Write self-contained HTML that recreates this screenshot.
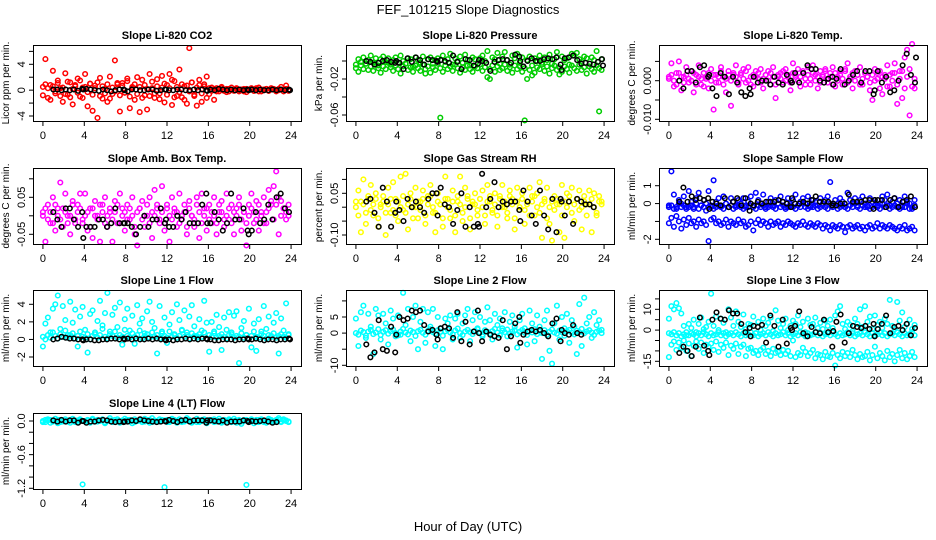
<!DOCTYPE html>
<html><head><meta charset="utf-8"><title>FEF_101215 Slope Diagnostics</title>
<style>
html,body{margin:0;padding:0;background:#fff;}
svg{display:block;font-family:"Liberation Sans",Arial,sans-serif;}
</style></head>
<body>
<svg id="chart" width="936" height="540" viewBox="0 0 936 540" xmlns="http://www.w3.org/2000/svg">
<rect x="0" y="0" width="936" height="540" fill="#fff"/>
<text x="468" y="14" text-anchor="middle" font-size="13">FEF_101215  Slope Diagnostics</text>
<text x="468" y="531" text-anchor="middle" font-size="13">Hour of Day (UTC)</text>
</svg>
<script>
const xTicks = [0,4,8,12,16,20,24];
const hours = [0,0.24,0.48,0.72,0.96,1.2,1.44,1.68,1.92,2.16,2.4,2.64,2.88,3.12,3.36,3.6,3.84,4.08,4.32,4.56,4.8,5.04,5.28,5.52,5.76,6,6.24,6.48,6.72,6.96,7.2,7.44,7.68,7.92,8.16,8.4,8.64,8.88,9.12,9.36,9.6,9.84,10.08,10.32,10.56,10.8,11.04,11.28,11.52,11.76,12,12.24,12.48,12.72,12.96,13.2,13.44,13.68,13.92,14.16,14.4,14.64,14.88,15.12,15.36,15.6,15.84,16.08,16.32,16.56,16.8,17.04,17.28,17.52,17.76,18,18.24,18.48,18.72,18.96,19.2,19.44,19.68,19.92,20.16,20.4,20.64,20.88,21.12,21.36,21.6,21.84,22.08,22.32,22.56,22.8,23.04,23.28,23.52,23.76];
const blackHours = [1.0,1.4,1.8,2.2,2.6,3.0,3.4,3.8,3.9,4.2,4.6,5.0,5.4,5.8,6.2,6.6,7.0,7.4,7.8,7.9,8.2,8.6,9.0,9.4,9.8,10.2,10.6,11.0,11.4,11.8,11.9,12.2,12.6,13.0,13.4,13.8,14.2,14.6,15.0,15.4,15.8,15.9,16.2,16.6,17.0,17.4,17.8,18.2,18.6,19.0,19.4,19.8,19.9,20.2,20.6,21.0,21.4,21.8,22.2,22.6,23.0,23.4,23.8,23.9];

const co2A = [0.5,4.8,-1.2,0.8,3.0,-0.5,1.5,0.3,-1.8,2.6,-0.7,1.2,-2.2,0.6,1.8,-1.0,0.4,2.5,-2.5,1.0,-3.2,0.7,-4.3,1.9,-1.3,0.2,-1.8,2.1,-0.6,4.6,0.9,-3.3,1.1,-0.4,1.8,-2.8,0.5,-1.5,2.0,-3.4,1.6,-0.8,-3.0,2.5,0.3,-1.2,1.7,-0.5,2.2,-1.9,0.8,2.5,-2.3,1.4,-0.9,3.2,-1.1,0.6,-2.1,6.5,1.2,-0.7,-2.4,1.6,-1.8,0.9,2.1,-0.6,0.4,-1.5,0.3,-0.2,0.5,0.1,-0.3,0.2,0.4,-0.1,0.3,-0.2,0.1,0.2,-0.3,0.1,0.3,-0.1,0.2,0.4,-0.2,0.1,0.2,-0.1,0.3,0.1,-0.2,0.2,0.5,0.1,0.7,-0.1];
const co2B = [-0.8,0.9,0.3,-1.5,0.6,-0.2,1.1,-0.9,0.4,-0.6,1.3,-1.1,0.2,0.8,-0.4,1.5,-1.2,0.5,-0.3,1.0,-0.7,0.3,1.2,-0.9,0.6,-0.5,0.9,-1.3,0.4,-0.2,1.1,-0.8,0.7,-0.4,1.4,-1.0,0.3,0.9,-0.6,0.5,-1.2,0.8,0.2,-0.9,1.3,-0.5,0.6,-1.4,0.4,1.0,-0.7,0.3,1.6,-1.1,0.5,-0.3,0.9,-1.5,0.7,-0.2,1.2,-0.9,0.4,0.8,-0.5,0.6,-1.2,0.3,-0.1,0.2,-0.2,0.1,0.3,-0.1,0.2,-0.2,0.1,0,0.2,-0.1,0.1,-0.2,0.2,0,0.1,-0.1,0.3,-0.2,0.1,0,0.2,-0.1,0.1,0.2,-0.1,0,0.1,-0.2,0.2,0];
const co2K = [0.1,0.1,0,0.1,0,0.1,-0.1,0.2,0.1,0.2,0.1,0,-0.1,0.1,0,-0.2,0,0.1,0.1,0,-0.2,0.1,0.1,0,0,0.1,0.1,-0.1,0,0.1,0.1,0,0,0.1,0.1,0,0,0.1,0,0.1,0,-0.1,0.1,0,0.2,0.1,0,0.1,0,0.1,0,0.1,0,0.1,0,0.1,0,0,0.1,0,0.1,0,0.1,0];

const presA = [-0.004,0.002,-0.001,0.004,-0.003,0.001,0.006,-0.002,0.003,-0.005,0.002,0.005,-0.001,0.003,-0.004,0.001,0.004,-0.002,0.006,0.000,-0.003,0.003,0.002,-0.006,0.004,0.001,-0.002,0.005,-0.014,0.002,0.004,-0.003,0.001,0.003,-0.063,0.006,-0.001,0.002,0.008,-0.004,0.003,0.000,0.005,-0.002,0.007,0.001,-0.005,0.004,0.002,-0.008,0.003,0.006,0.000,0.011,-0.020,0.004,0.002,0.009,-0.003,0.005,0.010,0.001,-0.004,0.006,0.003,0.008,-0.002,0.004,-0.066,0.001,0.005,-0.016,0.003,0.000,0.006,-0.002,0.004,0.001,0.007,-0.003,0.002,0.010,-0.015,0.005,0.001,0.003,-0.004,0.008,0.006,0.009,0.002,-0.001,0.005,0.003,-0.006,0.004,0.001,0.011,-0.056,0.002];
const presB = [-0.008,-0.012,-0.005,-0.009,-0.003,-0.010,-0.006,-0.011,-0.004,-0.008,-0.013,-0.006,-0.009,-0.002,-0.007,-0.011,-0.005,-0.009,-0.014,-0.006,-0.003,-0.010,-0.007,-0.012,-0.005,-0.008,-0.011,-0.004,-0.009,-0.006,-0.013,-0.007,-0.010,-0.003,-0.008,-0.012,-0.005,-0.009,-0.006,-0.011,-0.004,-0.008,-0.013,-0.007,-0.010,-0.005,-0.009,-0.012,-0.006,-0.008,-0.004,-0.011,-0.007,-0.018,-0.009,-0.005,-0.012,-0.006,-0.010,-0.008,-0.004,-0.011,-0.007,-0.013,-0.005,-0.009,-0.006,-0.012,-0.008,-0.020,-0.010,-0.005,-0.013,-0.007,-0.009,-0.004,-0.011,-0.006,-0.014,-0.008,-0.005,-0.010,-0.007,-0.012,-0.006,-0.009,-0.013,-0.005,-0.008,-0.011,-0.004,-0.010,-0.007,-0.014,-0.006,-0.009,-0.012,-0.005,-0.008,-0.010];
const presK = [0.000,-0.001,-0.004,-0.002,0.000,0.001,-0.001,-0.002,0.000,-0.002,-0.009,0.003,-0.001,0.004,0.001,-0.004,0.002,0.001,0.000,-0.001,0.001,0.000,-0.002,0.006,-0.001,-0.009,0.002,0.001,-0.005,-0.003,0.001,0.000,-0.002,-0.011,-0.001,0.001,0.002,0.001,-0.002,0.007,0.005,0.000,-0.006,0.000,0.003,0.000,0.000,0.002,0.003,0.002,0.004,-0.004,-0.010,0.003,0.004,0.006,0.001,-0.003,-0.002,-0.003,-0.004,-0.001,0.002,-0.005];

const tempA = [0.0010,0.0045,-0.0015,0.0020,0.0050,-0.0025,0.0010,0.0035,-0.0005,0.0025,-0.0030,0.0015,0.0040,-0.0010,0.0020,0.0005,-0.0020,0.0030,-0.0075,0.0015,-0.0005,0.0035,0.0010,-0.0030,0.0025,-0.0065,0.0015,0.0040,-0.0010,0.0020,0.0030,-0.0005,0.0035,0.0010,-0.0015,0.0025,0.0005,0.0030,-0.0020,0.0015,0.0025,-0.0010,0.0035,-0.0045,0.0010,0.0020,-0.0005,0.0030,0.0015,-0.0025,0.0045,0.0010,0.0030,-0.0015,0.0020,0.0005,0.0035,-0.0010,0.0040,0.0015,-0.0020,0.0025,0.0010,0.0030,-0.0005,0.0020,0.0035,-0.0015,0.0010,0.0025,-0.0010,0.0030,0.0045,0.0005,-0.0020,0.0025,0.0015,0.0035,-0.0010,0.0020,0.0010,-0.0025,-0.0050,0.0030,0.0005,0.0025,-0.0035,0.0015,0.0040,-0.0015,0.0020,0.0045,-0.0060,0.0025,-0.0045,0.0060,0.0080,-0.0090,0.0095,-0.0020];
const tempB = [0.0005,0.0015,0.0000,-0.0010,0.0020,0.0010,-0.0005,0.0015,0.0005,0.0000,0.0020,-0.0010,0.0010,0.0005,-0.0015,0.0010,0.0020,0.0000,0.0015,-0.0005,0.0010,0.0025,-0.0010,0.0005,0.0015,0.0000,0.0020,0.0010,-0.0005,0.0015,0.0005,0.0025,0.0000,-0.0010,0.0015,0.0010,0.0020,-0.0005,0.0005,0.0015,0.0000,0.0020,0.0010,-0.0010,0.0015,0.0005,0.0025,0.0000,0.0010,-0.0005,0.0020,0.0015,0.0000,0.0010,0.0025,-0.0010,0.0015,0.0005,0.0020,0.0000,0.0010,-0.0005,0.0015,0.0025,0.0005,0.0010,-0.0010,0.0020,0.0000,0.0015,0.0005,0.0025,-0.0005,0.0010,0.0020,0.0000,0.0015,-0.0010,0.0005,0.0020,0.0010,-0.0005,0.0015,0.0000,0.0020,-0.0020,0.0010,0.0005,-0.0015,0.0015,0.0000,0.0020,-0.0010,0.0005,0.0025,-0.0020,0.0010,0.0030,-0.0015,0.0005];
const tempK = [0.0000,-0.0020,0.0025,0.0025,-0.0005,0.0035,0.0040,0.0010,0.0015,-0.0020,-0.0040,0.0020,0.0010,-0.0035,0.0010,-0.0005,-0.0030,-0.0040,-0.0020,-0.0035,0.0010,-0.0005,0.0000,0.0000,-0.0010,0.0010,-0.0005,-0.0010,0.0015,0.0000,-0.0005,0.0020,-0.0005,0.0020,0.0040,0.0030,0.0030,0.0000,-0.0005,0.0005,0.0010,-0.0010,0.0005,0.0030,-0.0010,0.0000,0.0015,0.0025,-0.0005,0.0025,0.0025,-0.0035,-0.0025,0.0025,-0.0005,0.0010,-0.0030,-0.0025,0.0000,0.0040,0.0070,0.0015,-0.0005,0.0060];

const ambA = [0.01,-0.07,0.03,-0.02,0.05,-0.04,0.02,0.09,-0.03,0.06,0.00,-0.05,0.04,-0.02,0.03,0.06,-0.01,0.06,-0.04,0.02,-0.06,0.04,0.00,-0.07,0.03,0.05,-0.03,0.01,-0.07,0.04,-0.02,0.06,0.02,-0.04,0.03,-0.01,0.05,-0.05,-0.08,0.02,0.04,-0.03,0.00,0.05,-0.06,0.07,0.03,-0.02,0.08,-0.04,0.02,-0.07,0.05,0.01,-0.03,0.06,-0.01,0.03,-0.05,0.04,0.00,-0.03,0.05,-0.06,0.06,0.02,-0.04,0.03,-0.02,0.05,-0.05,0.01,0.04,-0.03,0.06,-0.01,0.03,-0.05,0.02,0.05,-0.04,0.01,-0.08,0.03,0.06,-0.02,0.04,-0.04,0.01,0.05,-0.02,0.07,0.03,0.08,0.12,-0.05,0.04,0.02,-0.01,0.03];
const ambB = [0.00,0.02,-0.01,0.01,-0.02,0.03,0.00,-0.01,0.02,0.01,-0.02,0.00,0.03,-0.01,0.01,0.02,-0.02,0.00,0.01,-0.03,0.02,0.00,-0.01,0.03,0.01,-0.02,0.00,0.02,-0.01,0.01,0.03,-0.02,0.00,0.01,-0.01,0.02,0.00,-0.03,0.01,0.02,-0.01,0.00,0.03,-0.02,0.01,0.00,0.02,-0.01,0.01,-0.02,0.03,0.00,-0.01,0.02,0.01,-0.02,0.00,0.01,-0.03,0.02,0.00,-0.01,0.03,0.01,-0.02,0.00,0.02,-0.01,0.01,0.00,-0.02,0.03,0.01,-0.01,0.00,0.02,-0.02,0.01,0.00,0.03,-0.01,0.01,-0.02,0.00,0.02,0.01,-0.01,0.03,0.00,-0.02,0.01,0.02,0.04,-0.01,0.03,0.05,0.00,0.02,0.01,0.00];
const ambK = [0.01,-0.01,-0.03,0.02,0.02,-0.01,-0.03,0.01,-0.06,-0.03,-0.03,-0.03,-0.01,-0.01,-0.03,-0.02,0.02,-0.02,-0.02,-0.02,-0.02,-0.03,-0.05,-0.03,0.00,-0.03,-0.01,-0.01,0.02,-0.02,-0.01,-0.03,-0.03,0.00,-0.01,0.01,-0.02,-0.02,-0.02,0.03,0.06,-0.02,-0.02,0.01,-0.01,-0.04,-0.02,0.06,-0.01,-0.01,0.02,-0.04,-0.05,-0.04,0.01,-0.02,-0.01,0.03,-0.01,0.05,0.06,0.02,0.01];

const rhA = [0.02,0.06,-0.09,0.10,-0.06,0.03,0.08,-0.03,0.05,-0.07,0.01,0.04,-0.10,0.07,-0.02,0.09,0.03,-0.05,0.11,-0.01,0.12,-0.08,0.05,0.00,0.07,-0.04,0.02,0.06,-0.06,0.04,0.08,-0.02,-0.09,0.05,0.01,-0.07,0.11,0.03,-0.04,0.06,-0.09,0.02,0.11,-0.05,0.07,0.04,-0.08,0.01,0.05,-0.03,0.03,0.06,-0.06,0.08,0.02,-0.02,0.05,-0.07,0.04,0.08,0.00,-0.04,0.06,0.03,-0.08,0.07,-0.01,0.05,-0.06,0.02,0.07,0.04,-0.03,0.05,0.09,-0.11,0.02,0.07,-0.06,-0.12,0.04,0.01,-0.09,0.08,-0.11,0.05,0.02,0.07,-0.05,0.03,0.06,-0.08,0.04,0.01,0.06,-0.09,0.05,-0.03,0.04,0.02];
const rhB = [0.00,-0.03,0.02,0.01,-0.02,0.04,-0.01,0.01,0.03,-0.04,0.00,0.02,-0.02,0.01,0.03,-0.01,-0.03,0.02,0.00,0.04,-0.02,0.01,0.03,-0.04,0.00,0.02,-0.01,0.03,-0.03,0.01,0.04,0.00,-0.02,0.02,0.01,-0.04,0.03,0.00,-0.01,0.02,-0.03,0.04,0.01,-0.02,0.00,0.03,-0.04,0.02,0.01,-0.01,0.03,0.00,-0.03,0.02,0.04,-0.01,0.01,-0.03,0.03,0.00,0.02,-0.02,0.04,0.01,-0.04,0.02,0.00,0.03,-0.01,0.01,-0.03,0.02,0.04,0.00,-0.02,0.01,0.03,-0.04,0.00,0.02,-0.01,0.03,0.01,-0.03,0.02,0.00,0.04,-0.02,0.01,0.03,-0.01,0.00,0.02,-0.03,0.01,0.03,0.00,-0.02,0.02,0.01];
const rhK = [0.02,0.03,-0.02,-0.07,0.07,0.02,-0.07,-0.02,0.02,-0.01,-0.05,0.03,0.00,0.02,0.00,-0.02,0.03,0.05,0.05,-0.03,0.07,0.01,0.00,-0.06,-0.01,0.05,-0.07,0.00,-0.07,-0.06,-0.07,0.12,0.00,0.03,0.09,0.00,0.02,0.01,0.02,0.02,-0.01,-0.05,0.06,0.02,-0.03,-0.06,0.06,-0.03,-0.08,0.03,-0.09,0.03,0.02,-0.03,0.02,-0.06,0.03,0.02,0.01,0.01,0.00];

const sfA = [-0.1,1.8,0.5,-0.3,0.2,0.0,0.4,-0.2,0.7,0.1,-0.3,0.3,0.6,-0.1,0.2,0.0,0.7,-0.2,1.3,0.1,0.3,-0.1,0.4,0.0,-0.2,0.3,0.1,-0.1,0.2,0.0,0.3,-0.2,0.1,0.4,-0.1,0.6,0.2,0.0,0.5,-0.2,0.1,0.3,-0.1,0.2,0.0,0.4,0.1,-0.2,0.3,0.0,0.2,0.5,-0.1,0.1,0.3,0.0,0.4,-0.2,0.2,0.1,-0.1,0.3,0.0,0.2,0.4,1.2,-0.1,0.2,0.0,0.3,0.1,-0.2,0.6,0.2,0.0,0.3,-0.1,0.2,0.4,0.0,-0.2,0.3,0.1,0.2,-0.1,0.0,0.4,0.2,0.5,-0.1,0.1,0.3,0.0,0.2,-0.2,0.4,0.1,0.0,-0.3,0.2];
const sfB = [-1.1,-0.8,-1.3,-0.7,-1.0,-1.4,-0.9,-1.2,-0.8,-1.1,-1.0,-1.3,-0.9,-1.1,-1.0,-1.2,-2.1,-0.9,-0.8,-1.1,-1.0,-1.2,-1.1,-0.9,-1.3,-1.0,-1.1,-1.2,-0.9,-1.1,-1.0,-1.3,-1.2,-1.0,-1.5,-1.1,-0.9,-1.2,-1.0,-1.1,-1.3,-1.0,-1.2,-1.1,-1.0,-1.3,-1.1,-1.2,-1.0,-1.1,-1.2,-1.3,-1.1,-1.2,-1.0,-1.2,-1.3,-1.1,-1.2,-1.3,-1.1,-1.2,-1.4,-1.2,-1.3,-1.5,-1.2,-1.3,-1.4,-1.2,-1.3,-1.6,-1.3,-1.2,-1.4,-1.3,-1.2,-1.4,-1.3,-1.5,-1.3,-1.2,-1.4,-1.3,-1.1,-1.4,-1.2,-1.3,-1.4,-1.2,-1.3,-1.4,-1.5,-1.3,-1.4,-1.2,-1.5,-1.4,-1.3,-1.5];
const sfC = [-0.2,-0.1,-0.3,-0.2,0.0,-0.2,-0.1,-0.3,-0.2,-0.1,-0.2,0.0,-0.3,-0.1,-0.2,-0.4,-0.2,-0.1,-0.3,-0.2,-0.1,-0.2,-0.3,0.0,-0.2,-0.1,-0.3,-0.2,-0.1,-0.2,-0.3,-0.1,-0.2,0.0,-0.2,-0.3,-0.1,-0.2,-0.1,-0.3,-0.2,-0.1,-0.2,-0.3,0.0,-0.2,-0.1,-0.3,-0.2,-0.1,-0.2,-0.3,-0.1,-0.2,0.0,-0.2,-0.3,-0.1,-0.2,-0.1,-0.3,-0.2,-0.1,-0.2,-0.3,0.0,-0.2,-0.1,-0.3,-0.2,-0.1,-0.2,-0.3,-0.1,-0.2,0.0,-0.2,-0.3,-0.1,-0.2,-0.1,-0.3,-0.2,-0.1,-0.2,-0.3,0.0,-0.2,-0.1,-0.3,-0.2,-0.1,-0.2,-0.3,-0.1,-0.2,0.0,-0.3,-0.2,-0.1];
const sfK = [0.1,0.9,0.1,0.4,0.2,0.3,0.2,0.3,-0.3,0.1,0.0,-0.1,0.3,-0.2,0.1,0.3,-0.1,0.3,-0.4,0.0,-0.1,0.1,0.0,0.1,0.1,0.1,0.2,0.1,0.0,-0.2,0.3,0.0,0.0,0.1,0.0,0.2,0.4,0.1,0.1,0.1,-0.1,0.0,-0.1,0.0,0.0,0.5,0.1,0.1,0.1,0.2,0.2,-0.3,0.2,0.2,0.2,-0.2,0.2,0.3,-0.2,0.1,0.2,0.4,-0.2];

const l1A = [-0.8,1.8,2.5,0.8,3.5,4.0,5.0,1.2,3.8,2.2,0.5,4.3,1.9,3.4,-0.8,2.6,3.7,1.1,-1.5,2.9,3.3,0.6,2.1,4.4,1.6,3.0,5.3,0.9,2.8,3.6,1.4,4.2,-0.6,2.3,3.5,1.0,2.7,-0.5,3.9,1.8,2.4,0.7,3.2,4.3,2.0,1.3,-1.6,3.8,0.9,2.5,-0.4,1.7,3.1,0.5,4.0,2.2,1.1,3.3,0.8,2.6,3.9,1.5,0.4,2.3,1.0,4.4,1.9,-1.4,2.0,0.7,2.8,1.4,-1.2,2.5,1.1,3.1,0.6,2.7,3.2,-2.7,1.3,2.1,0.5,3.5,-0.9,1.8,-1.3,2.3,0.9,3.8,1.2,2.6,0.4,1.9,3.0,-1.6,2.4,1.0,4.1,0.6];
const l1B = [0.3,0.0,0.5,0.2,0.8,0.4,0.1,0.6,0.3,1.0,0.2,0.5,0.7,0.1,0.4,0.9,0.3,0.2,0.6,0.0,0.4,0.8,0.2,0.5,1.2,0.3,0.1,0.6,0.4,0.9,0.2,0.5,0.3,1.1,0.4,0.2,0.7,0.3,0.5,1.0,0.1,0.4,0.6,0.2,0.8,0.3,0.5,0.1,0.7,0.4,0.2,0.9,0.3,0.6,0.2,0.4,1.0,0.3,0.5,0.1,0.7,0.4,0.2,0.6,0.3,0.8,0.1,0.5,0.3,0.9,0.2,0.4,0.6,0.3,0.1,0.5,0.8,0.2,0.4,0.3,0.7,0.2,0.5,0.1,0.4,0.9,0.3,0.2,0.6,0.4,0.1,0.5,0.3,0.7,0.2,0.4,0.6,0.3,0.2,0.5];
const l1K = [0.0,0.1,0.3,0.2,0.1,0.1,0.0,0.0,-0.1,0.0,0.0,-0.1,-0.1,0.0,0.0,0.1,0.1,0.0,0.1,0.0,0.1,0.0,0.1,0.0,0.0,0.1,0.0,0.1,0.0,0.0,-0.1,0.0,-0.1,0.0,0.0,0.1,0.0,0.1,0.0,0.1,0.1,0.0,0.0,-0.1,-0.1,0.0,0.0,0.0,-0.1,0.0,0.0,0.1,0.0,0.0,0.1,0.0,-0.1,0.0,0.0,-0.1,0.0,0.0,0.1,0.0];

const l2A = [4.5,-4.0,6.5,8.5,-1.5,6.0,2.0,-6.5,7.5,5.5,-2.0,6.0,3.0,-3.5,7.0,4.5,-1.0,5.5,-0.5,12.5,2.5,7.5,-2.5,5.0,8.5,-5.0,3.5,7.5,-3.0,6.5,2.0,7.5,-4.0,5.0,1.5,-5.0,4.5,3.0,5.5,-2.0,4.5,6.0,-1.5,3.0,5.5,7.5,-2.5,4.0,6.5,1.5,5.0,-1.0,3.5,8.0,4.0,-2.0,6.0,2.5,4.5,1.5,6.5,-1.0,3.5,5.5,2.0,-4.5,4.0,6.0,1.5,-3.5,7.0,3.0,-2.5,5.5,2.0,-8.0,4.0,7.0,-5.5,-9.5,3.0,8.5,-2.0,5.0,1.5,6.0,-3.0,4.0,2.0,-6.5,9.0,-4.0,11.0,3.0,5.0,-1.5,6.5,2.5,4.0,1.0];
const l2B = [0.0,-0.5,0.8,0.3,-0.8,0.5,1.0,-0.3,0.2,1.2,-0.6,0.4,0.9,-0.2,0.6,1.1,0.0,-0.7,0.5,1.3,0.2,-0.4,0.8,0.3,-0.9,0.6,1.0,0.1,-0.5,0.7,1.2,0.3,-0.2,0.9,0.4,-0.8,0.6,1.1,0.2,-0.4,0.8,1.4,0.0,-0.6,0.5,1.0,0.3,-0.3,0.7,1.2,0.1,-0.5,0.9,0.4,-0.1,0.6,1.3,0.2,-0.7,0.8,0.3,1.1,-0.2,0.5,0.9,-0.4,0.4,1.0,0.1,-0.6,0.7,0.2,1.2,-0.3,0.6,0.0,0.9,-0.5,0.4,1.1,0.2,-0.2,0.8,0.3,-0.8,0.6,1.0,0.1,-0.4,0.7,0.3,1.3,-0.1,0.5,0.9,0.2,-0.6,0.4,0.8,0.0];
const l2K = [-3.5,-7.5,-6.0,4.0,-5.0,-5.5,2.0,-6.0,-0.5,5.0,4.0,4.5,7.0,6.5,7.0,2.5,0.5,1.0,-0.5,-2.0,1.5,2.0,1.5,-1.5,6.5,-2.5,3.5,-3.5,0.5,7.0,0.0,-2.5,0.5,-0.5,-1.0,-1.5,4.0,-5.0,-1.0,3.0,5.0,-3.0,-0.5,0.5,1.0,0.5,1.0,0.0,-1.0,3.0,4.5,-2.5,1.0,0.0,-0.5,2.5,0.0,-0.5];

const l3A = [5.5,11.5,10.0,13.0,10.5,8.0,2.0,-2.5,3.0,1.0,5.0,-1.0,3.0,6.0,0.5,1.5,4.0,17.5,2.0,6.5,0.0,5.5,3.5,-1.0,10.0,6.0,2.0,9.0,4.0,1.5,7.5,0.5,3.0,2.5,6.5,-1.5,4.0,0.0,5.5,2.0,3.5,6.0,-0.5,9.5,4.5,1.0,3.0,5.5,0.0,2.0,4.5,3.0,7.0,1.5,4.0,-1.0,5.5,2.5,3.0,6.0,1.0,3.5,0.5,4.5,2.0,5.0,1.0,7.0,9.0,11.5,3.0,0.5,4.0,2.5,-0.5,5.5,3.0,10.0,1.5,11.5,4.0,6.5,0.5,7.0,2.5,4.0,1.0,5.5,3.0,14.5,2.0,0.5,13.5,4.5,8.5,1.5,3.0,5.0,0.5,2.5];
const l3B = [-13.0,-7.0,-5.5,-9.5,-6.0,-8.5,-5.0,-10.0,-6.5,-12.5,-7.5,-5.5,-9.0,-6.0,-11.0,-7.0,-8.0,-6.5,-9.5,-5.5,-10.5,-7.0,-8.5,-6.0,-12.0,-7.5,-9.0,-6.5,-11.5,-8.0,-7.0,-12.5,-9.0,-8.5,-11.0,-10.0,-12.0,-9.5,-8.5,-11.5,-10.0,-12.5,-9.0,-11.0,-10.5,-12.0,-9.5,-11.5,-10.0,-12.5,-5.0,-13.0,-11.0,-12.0,-8.5,-10.5,-12.5,-11.0,-9.5,-13.5,-11.5,-12.0,-14.0,-10.5,-12.5,-13.0,-11.0,-17.0,-12.0,-13.5,-10.5,-12.5,-11.0,-13.0,-9.5,-12.0,-14.0,-11.5,-13.0,-12.5,-10.5,-14.5,-12.0,-8.0,-13.5,-11.0,-12.5,-14.5,-10.0,-13.0,-11.5,-15.0,-12.0,-9.5,-13.5,-11.0,-14.0,-12.5,-10.5,-13.0];
const l3C = [-1.5,-2.0,-1.0,-2.5,-1.5,-3.0,-2.0,-1.0,-2.5,-1.5,-2.0,-3.0,-1.5,-2.5,-1.0,-2.0,-3.0,-1.5,-2.5,-2.0,-1.0,-2.5,-1.5,-3.0,-2.0,-1.5,-2.5,-1.0,-2.0,-3.0,-1.5,-2.5,-2.0,-1.0,-2.5,-1.5,-3.0,-2.0,-1.5,-2.5,-1.0,-2.0,-3.0,-1.5,-2.5,-2.0,-1.0,-2.5,-1.5,-3.0,-2.0,-1.5,-2.5,-1.0,-2.0,-3.0,-1.5,-2.5,-2.0,-1.0,-2.5,-1.5,-3.0,-2.0,-1.5,-2.5,-1.0,-2.0,-3.0,-1.5,-2.5,-2.0,-1.0,-2.5,-1.5,-3.0,-2.0,-1.5,-2.5,-1.0,-2.0,-3.0,-1.5,-2.5,-2.0,-1.0,-2.5,-1.5,-3.0,-2.0,-1.5,-2.5,-1.0,-2.0,-3.0,-1.5,-2.5,-2.0,-1.0,-2.5];
const l3K = [-11.0,-8.0,-10.0,-12.5,-8.0,6.0,-7.5,-10.0,-12.0,5.0,8.5,5.5,5.0,9.5,8.0,8.0,3.0,-1.0,1.0,-3.0,2.0,1.5,2.5,-6.0,7.0,2.0,-8.0,5.0,-6.5,1.0,0.0,2.0,9.0,-1.5,-3.0,1.5,-1.0,-1.5,5.0,-1.0,-8.0,-0.5,4.0,7.5,-6.0,-1.5,2.0,1.5,1.0,2.0,0.5,3.0,-3.0,0.5,3.0,7.0,-1.5,1.5,2.0,0.0,3.0,-2.5,1.0];

const l4A = [-0.02,0.02,0.03,-0.03,0.01,0.04,-0.04,0.02,-0.01,0.03,0.00,-0.03,0.04,0.01,-0.02,0.03,-1.13,0.00,0.02,-0.03,0.04,-0.01,0.02,0.00,0.03,-0.04,0.01,0.05,-0.02,0.02,0.03,-0.03,0.00,0.04,-0.01,0.02,-0.04,0.03,0.00,0.01,-0.02,0.04,0.02,-0.03,0.05,0.01,-0.01,0.03,0.00,-1.18,0.02,-0.02,0.04,0.01,-0.03,0.03,0.00,-0.01,0.05,0.02,-0.03,0.01,0.04,-0.02,0.00,0.03,-0.04,0.02,0.01,0.03,-0.01,0.04,-0.03,0.02,0.00,0.03,-0.02,0.04,-0.03,0.01,-0.05,0.02,-1.14,0.00,0.03,-0.04,0.02,-0.02,0.03,0.01,-0.03,0.04,0.00,-0.02,0.02,0.05,-0.01,0.03,0.01,-0.02];
const l4B = [0.00,-0.02,0.01,0.02,-0.01,0.00,0.02,-0.02,0.01,0.00,-0.01,0.02,0.00,-0.02,0.01,0.02,0.00,-0.01,0.01,-0.02,0.02,0.00,-0.01,0.01,0.02,-0.02,0.00,0.01,-0.01,0.02,0.00,-0.02,0.01,0.00,0.02,-0.01,0.01,-0.02,0.00,0.02,0.01,-0.01,0.00,0.02,-0.02,0.01,0.00,-0.01,0.02,0.01,-0.02,0.00,0.01,0.02,-0.01,0.00,-0.02,0.01,0.02,0.00,-0.01,0.01,-0.02,0.00,0.02,0.01,-0.01,0.00,0.02,-0.02,0.01,0.00,-0.01,0.02,0.00,0.01,-0.02,0.00,0.01,0.02,-0.01,0.00,0.02,-0.02,0.01,0.00,-0.01,0.02,0.01,-0.02,0.00,0.01,0.02,-0.01,0.00,0.02,-0.02,0.01,0.00,-0.01];
const l4K = [0.01,-0.01,0.02,-0.01,0.01,0.01,-0.03,0.00,0.00,-0.03,-0.01,-0.01,0.01,0.02,0.01,-0.01,-0.02,-0.01,-0.02,-0.01,-0.01,0.01,0.00,0.03,0.01,0.00,-0.01,-0.02,-0.01,0.00,-0.01,0.02,0.00,-0.02,0.01,0.02,-0.01,0.01,0.01,0.01,-0.03,0.01,0.01,0.00,-0.01,0.01,-0.03,-0.01,-0.01,-0.01,0.01,0.00,-0.02,0.00,-0.01,0.00,0.01,-0.01,-0.03,-0.02];

const co2Ticks=[-4,-2,0,2,4,6], co2Labels=["-4","","0","","4",""];
const presTicks=[0,-0.02,-0.04,-0.06], presLabels=["","-0.02","","-0.06"];
const tempTicks=[0.005,0,-0.005,-0.01], tempLabels=["","0.000","","-0.010"];
const ambTicks=[0.1,0.05,0,-0.05], ambLabels=["","0.05","","-0.05"];
const rhTicks=[0.1,0.05,0,-0.05,-0.1], rhLabels=["","0.05","","","-0.10"];
const sfTicks=[1,0,-1,-2], sfLabels=["1","0","","-2"];
const l1Ticks=[4,2,0,-2], l1Labels=["4","2","0","-2"];
const l2Ticks=[10,5,0,-5,-10], l2Labels=["","5","0","","-10"];
const l3Ticks=[15,10,5,0,-5,-10,-15], l3Labels=["","10","","0","","","-15"];
const l4Ticks=[0,-0.2,-0.4,-0.6,-0.8,-1.0,-1.2], l4Labels=["0.0","","","-0.6","","","-1.2"];

const NS="http://www.w3.org/2000/svg";
const svg=document.getElementById('chart');
const colLeft=[33,346,659], rowTop=[45,168,290,413], W=268, H=76;
const panels=[
 {key:'co2',title:'Slope Li-820 CO2',ylab:'Licor ppm per min.',color:'#ff0000',col:0,row:0,v1:4,p1:64.3,v2:-4,p2:116,series:[co2A,co2B],k:co2K,ticks:co2Ticks,labels:co2Labels},
 {key:'pressure',title:'Slope Li-820 Pressure',ylab:'kPa per min.',color:'#00cd00',col:1,row:0,v1:0,p1:61,v2:-0.06,p2:115,series:[presA,presB],k:presK,ticks:presTicks,labels:presLabels},
 {key:'li820-temp',title:'Slope Li-820 Temp.',ylab:'degrees C per min.',color:'#ff00ff',col:2,row:0,v1:0,p1:80.7,v2:-0.01,p2:119.3,series:[tempA,tempB],k:tempK,ticks:tempTicks,labels:tempLabels},
 {key:'amb-box-temp',title:'Slope Amb. Box Temp.',ylab:'degrees C per min.',color:'#ff00ff',col:0,row:1,v1:0.05,p1:197.3,v2:-0.05,p2:234.3,series:[ambA,ambB],k:ambK,ticks:ambTicks,labels:ambLabels},
 {key:'gas-stream-rh',title:'Slope Gas Stream RH',ylab:'percent per min.',color:'#ffff00',col:1,row:1,v1:0.05,p1:193.3,v2:-0.10,p2:235,series:[rhA,rhB],k:rhK,ticks:rhTicks,labels:rhLabels},
 {key:'sample-flow',title:'Slope Sample Flow',ylab:'ml/min per min.',color:'#0000ff',col:2,row:1,v1:1,p1:185.7,v2:-2,p2:239.3,series:[sfA,sfB,sfC],k:sfK,ticks:sfTicks,labels:sfLabels},
 {key:'line1-flow',title:'Slope Line 1 Flow',ylab:'ml/min per min.',color:'#00ffff',col:0,row:2,v1:4,p1:304.3,v2:-2,p2:357,series:[l1A,l1B],k:l1K,ticks:l1Ticks,labels:l1Labels},
 {key:'line2-flow',title:'Slope Line 2 Flow',ylab:'ml/min per min.',color:'#00ffff',col:1,row:2,v1:5,p1:317,v2:-10,p2:365.3,series:[l2A,l2B],k:l2K,ticks:l2Ticks,labels:l2Labels},
 {key:'line3-flow',title:'Slope Line 3 Flow',ylab:'ml/min per min.',color:'#00ffff',col:2,row:2,v1:10,p1:309.3,v2:-15,p2:361.3,series:[l3A,l3B,l3C],k:l3K,ticks:l3Ticks,labels:l3Labels},
 {key:'line4-flow',title:'Slope Line 4 (LT) Flow',ylab:'ml/min per min.',color:'#00ffff',col:0,row:3,v1:0,p1:421,v2:-1.2,p2:488.3,series:[l4A,l4B],k:l4K,ticks:l4Ticks,labels:l4Labels}
];
function mk(tag,attrs,parent){const e=document.createElementNS(NS,tag);for(const a in attrs)e.setAttribute(a,attrs[a]);(parent||svg).appendChild(e);return e;}
panels.forEach(p=>{
  const L=colLeft[p.col], T=rowTop[p.row];
  const g=mk('g',{});
  
  
  const xs=h=>L+(h+0.96)/25.92*W;
  const ys=v=>p.p1+(v-p.v1)*(p.p2-p.p1)/(p.v2-p.v1);
  const t=mk('text',{x:L+W/2,y:T-6,'text-anchor':'middle','font-size':'11','font-weight':'bold'},g);
  t.textContent=p.title;
  
  
  const yl=mk('text',{x:0,y:0,'text-anchor':'middle','font-size':'10',transform:`translate(${L-24},${T+H/2}) rotate(-90)`},g);
  yl.textContent=p.ylab;
  
  
  const pts=mk('g',{fill:'none','stroke-width':'1.5'},g);
  
  
  p.series.forEach(s=>{
    const n=Math.min(s.length,hours.length);
    for(let i=0;i<n;i++){
      const c=mk('circle',{cx:xs(hours[i]).toFixed(1),cy:ys(s[i]).toFixed(1),r:'2.3',stroke:p.color},pts);
      
      
    }
  });
  const nk=Math.min(p.k.length,blackHours.length);
  for(let i=0;i<nk;i++){
    const c=mk('circle',{cx:xs(blackHours[i]).toFixed(1),cy:ys(p.k[i]).toFixed(1),r:'2.3',stroke:'#000'},pts);
    
    
  }
  const box=mk('rect',{x:L+0.5,y:T+0.5,width:W,height:H,fill:'none',stroke:'#000','stroke-width':'1'},g);
  
  
  xTicks.forEach(v=>{
    const x=xs(v);
    const ln=mk('line',{x1:x,x2:x,y1:T+H+0.5,y2:T+H+5,stroke:'#000'},g);
    
    
    const tx=mk('text',{x:x,y:T+H+18,'text-anchor':'middle','font-size':'11'},g);
    tx.textContent=String(v);
    
    
  });
  p.ticks.forEach((v,i)=>{
    const y=ys(v);
    if(y<T-1||y>T+H+1)return;
    const ln=mk('line',{x1:L+0.5,x2:L-4,y1:y,y2:y,stroke:'#000'},g);
    
    
    if(p.labels[i]){
      const tx=mk('text',{x:0,y:0,'text-anchor':'middle','font-size':'11',transform:`translate(${L-8},${y}) rotate(-90)`},g);
      tx.textContent=p.labels[i];
      
      
    }
  });
});
</script>
</body></html>
